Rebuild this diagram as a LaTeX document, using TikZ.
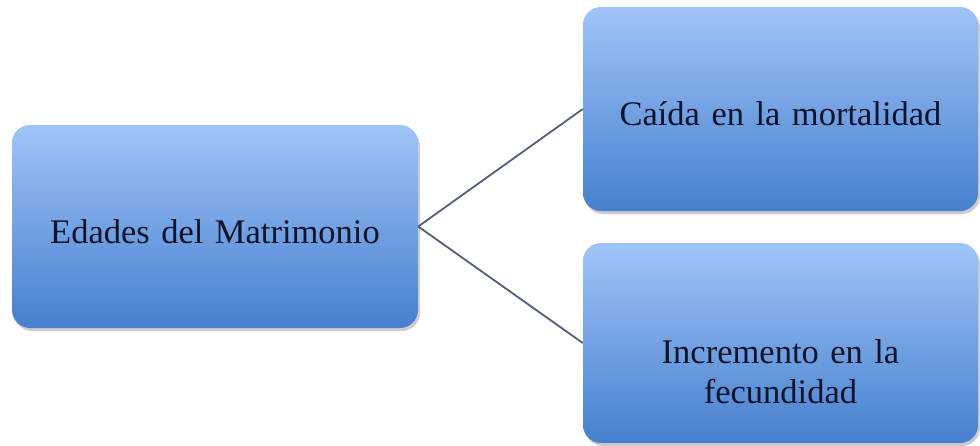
\documentclass[tikz,border=0pt]{standalone}
\usepackage{fontspec}
\setmainfont{Liberation Serif}
\usepackage{xcolor}
\usetikzlibrary{shadows}

\definecolor{boxtop}{RGB}{160,196,248}
\definecolor{boxbot}{RGB}{70,128,206}
\definecolor{linkcol}{RGB}{80,96,124}
\definecolor{txtcol}{RGB}{12,20,44}

\begin{document}
\begin{tikzpicture}[x=1pt, y=-1pt,
    box/.style={rounded corners=18pt, minimum height=203pt, text width=380pt, minimum width=400pt,
      align=center, top color=boxtop, bottom color=boxbot, font=\fontsize{34.5}{40}\selectfont,
      text=txtcol, inner sep=0pt,
      drop shadow={opacity=0.4, shadow xshift=2pt, shadow yshift=-3pt}},
    link/.style={line width=1.8pt, linkcol}
]
\useasboundingbox (0,0) rectangle (980,445);

\node[box, minimum width=406pt] (edades) at (215,226.5) {\rule{0pt}{34pt}Edades del Matrimonio};
\node[box, minimum width=395pt, minimum height=204pt] (caida) at (780.5,109) {\rule{0pt}{34pt}Caída en la mortalidad};
\node[box, minimum width=395pt, minimum height=200pt] (incr) at (780.5,343) {\rule{0pt}{82pt}Incremento en la\\fecundidad};

\draw[link] (edades.east) -- (caida.west);
\draw[link] (edades.east) -- (incr.west);
\end{tikzpicture}
\end{document}
